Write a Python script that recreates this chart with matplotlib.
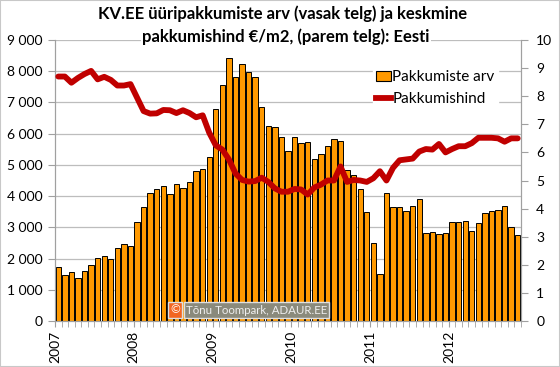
import matplotlib.pyplot as plt
from matplotlib.ticker import FuncFormatter
from matplotlib.lines import Line2D
from matplotlib.patches import Patch

# monthly data, Jan 2007 - Nov 2012
offers = [
    1720, 1460, 1580, 1380, 1610, 1780, 2020, 2070, 1975, 2330, 2480, 2400,
    3160, 3660, 4090, 4220, 4310, 4060, 4380, 4250, 4450, 4820, 4860, 5240,
    6790, 7560, 8410, 7800, 8230, 7980, 7820, 6860, 6250, 6210, 5900, 5440,
    5900, 5710, 5730, 5180, 5340, 5600, 5830, 5770, 4840, 4680, 4220, 3480,
    2490, 1500, 4110, 3640, 3660, 3530, 3680, 3920, 2810, 2850, 2790, 2810,
    3180, 3160, 3200, 2870, 3150, 3470, 3520, 3540, 3680, 3020, 2760,
]
price = [
    8.70, 8.70, 8.48, 8.65, 8.79, 8.90, 8.60, 8.69, 8.58, 8.38, 8.38, 8.43,
    7.95, 7.47, 7.38, 7.39, 7.51, 7.50, 7.40, 7.50, 7.40, 7.25, 7.32, 6.70,
    6.25, 6.10, 5.75, 5.25, 5.02, 4.96, 4.98, 5.10, 4.95, 4.72, 4.60, 4.60,
    4.70, 4.68, 4.50, 4.75, 4.85, 5.00, 5.00, 5.50, 4.95, 5.02, 5.00, 4.95,
    5.08, 5.33, 5.00, 5.45, 5.72, 5.75, 5.78, 6.03, 6.12, 6.10, 6.30, 6.00,
    6.12, 6.22, 6.22, 6.33, 6.52, 6.52, 6.52, 6.50, 6.38, 6.50, 6.50,
]
years = ["2007", "2008", "2009", "2010", "2011", "2012"]

plt.rcParams['font.family'] = ['Lato', 'DejaVu Sans']

fig = plt.figure(figsize=(5.6, 3.67), dpi=100)
fig.patch.set_facecolor("white")
ax = fig.add_axes([55 / 560, 1 - 321 / 367, 466 / 560, 281 / 367])
ax2 = ax.twinx()

x = [i + 0.5 for i in range(len(offers))]
ax.bar(x, offers, width=0.82, color="#FF9900", edgecolor="black", linewidth=0.7, zorder=2)
ax.set_xlim(0, len(offers))
ax.set_ylim(0, 9000)
ax.set_yticks(range(0, 9001, 1000))
ax.yaxis.set_major_formatter(FuncFormatter(lambda v, p: f"{int(v):,}".replace(",", " ")))
ax.grid(axis="y", color="#BDBDBD", linewidth=0.9, zorder=0)
ax.set_axisbelow(True)

ax.set_xticks([12 * k for k in range(len(years))])
ax.set_xticklabels(years, rotation=90, fontsize=10)
ax.set_xticks(range(len(offers) + 1), minor=True)
ax.tick_params(axis="x", which="both", length=4, color="#A0A0A0", pad=3)
ax.tick_params(axis="y", length=5, color="#A0A0A0", labelsize=10, pad=4)

ax2.plot(x, price, color="#C00000", linewidth=4.2, solid_joinstyle="round",
         solid_capstyle="round", zorder=3)
ax2.set_ylim(0, 10)
ax2.set_yticks(range(0, 11))
ax2.tick_params(axis="y", length=5, color="#A0A0A0", labelsize=10, pad=6)

for a in (ax, ax2):
    a.spines["top"].set_visible(False)
    for s in ("left", "right", "bottom"):
        a.spines[s].set_color("#A0A0A0")

handles = [Patch(facecolor="#FF9900", edgecolor="black", linewidth=0.8),
           Line2D([0], [0], color="#C00000", linewidth=4.2)]
ax2.legend(handles, ["Pakkumiste arv", "Pakkumishind"], loc="upper left",
           bbox_to_anchor=(0.665, 0.93), frameon=True, framealpha=1,
           edgecolor="white", fontsize=11, handlelength=1.0, handletextpad=0.1,
           borderpad=0.2, labelspacing=0.5)

fig.text(0.505, 1 - 14 / 367, "KV.EE üüripakkumiste arv (vasak telg) ja keskmine",
         ha="center", va="center", fontsize=12, fontweight="bold")
fig.text(0.51, 1 - 37 / 367, "pakkumishind €/m2, (parem telg): Eesti",
         ha="center", va="center", fontsize=12, fontweight="bold",
         bbox=dict(facecolor="white", edgecolor="none", pad=1))

fig.text(175 / 560, 1 - 310 / 367, "©", ha="center", va="center", color="white",
         fontsize=8.5, bbox=dict(facecolor="#F26522", edgecolor="#E0E0E0", pad=1.5))
fig.text(186 / 560, 1 - 310 / 367, "Tõnu Toompark, ADAUR.EE", ha="left", va="center",
         color="#EEEEEE", fontsize=8.3,
         bbox=dict(facecolor="#8A8A7C", edgecolor="#E0E0E0", pad=1.5))

fig.add_artist(plt.Rectangle((0, 0), 1, 1, transform=fig.transFigure, fill=False,
                             edgecolor="#C8C8C8", linewidth=1.5))

fig.savefig("out.png", dpi=100)
